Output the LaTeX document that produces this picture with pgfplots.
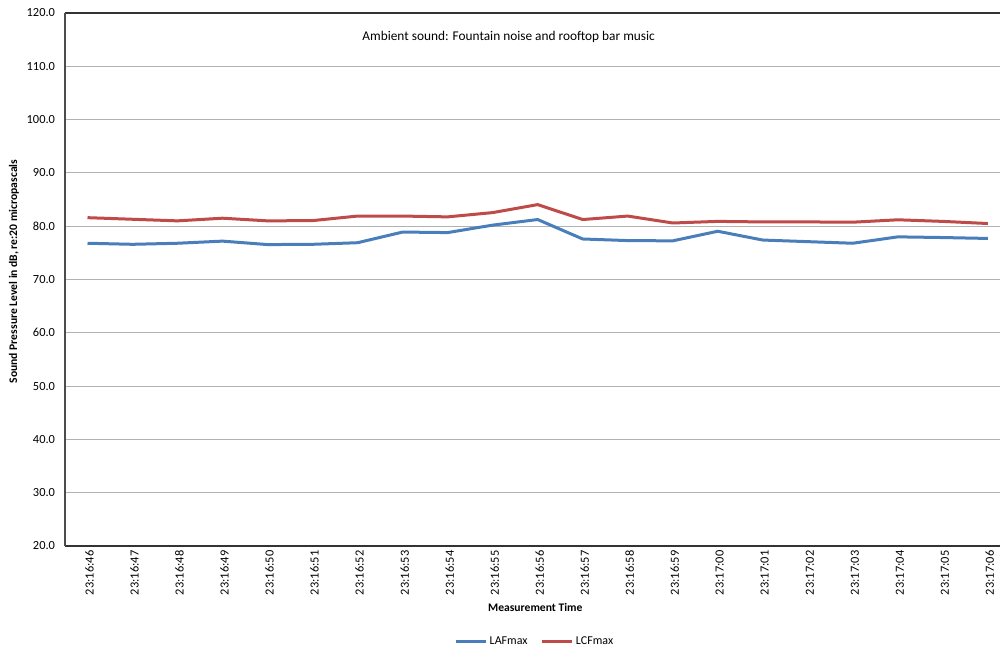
\documentclass[border=0pt]{standalone}
\usepackage{pgfplots}
\pgfplotsset{compat=1.18}
\usepackage{fontspec}
\setmainfont{Carlito}
\definecolor{lafblue}{HTML}{4A7EBB}
\definecolor{lcfred}{HTML}{BE4B48}
\pgfplotstableread{
i LAF LCF
0 76.8 81.6
1 76.6 81.3
2 76.8 81.0
3 77.2 81.5
4 76.55 81.0
5 76.6 81.05
6 76.9 81.9
7 78.9 81.9
8 78.8 81.75
9 80.2 82.55
10 81.25 84.05
11 77.6 81.25
12 77.3 81.9
13 77.25 80.6
14 79.05 80.9
15 77.4 80.8
16 77.1 80.8
17 76.8 80.75
18 78.0 81.2
19 77.87 80.9
20 77.7 80.5
}\data
\begin{document}
\begin{tikzpicture}
\begin{axis}[
  at={(0,0)}, anchor=south west,
  scale only axis,
  width=701.25pt, height=399.75pt,
  xmin=-0.5, xmax=20.27,
  ymin=20, ymax=120,
  ytick={20,30,...,120},
  yticklabel={\pgfmathprintnumber[fixed,fixed zerofill,precision=1]{\tick}},
  /pgf/number format/assume math mode=true,
  xtick={0,...,20},
  xticklabels={23:16:46,23:16:47,23:16:48,23:16:49,23:16:50,23:16:51,23:16:52,23:16:53,23:16:54,23:16:55,23:16:56,23:16:57,23:16:58,23:16:59,23:17:00,23:17:01,23:17:02,23:17:03,23:17:04,23:17:05,23:17:06},
  xticklabel style={rotate=90, anchor=east, font=\fontsize{9.3}{10}\selectfont, yshift=-1.5pt},
  yticklabel style={font=\fontsize{9.3}{10}\selectfont, xshift=-4pt},
  xtick style={draw=none},
  ytick style={draw=none},
  ymajorgrids,
  grid style={gray!60, line width=0.6pt},
  axis x line*=box,
  axis y line*=left,
  x axis line style={black!80, line width=1.2pt, -},
  y axis line style={black!70, line width=1.2pt, -},
  xlabel={\textbf{Measurement Time}},
  ylabel={\textbf{Sound Pressure Level in dB, re:20 micropascals}},
  xlabel style={font=\fontsize{8.7}{10}\selectfont, at={(axis description cs:0.503,-0.116)}, anchor=center},
  ylabel style={font=\fontsize{8.7}{10}\selectfont, at={(axis description cs:-0.0545,0.515)}, anchor=center, rotate=0},
  legend style={at={(axis description cs:0.503,-0.18)}, anchor=center, draw=none, legend columns=2, font=\fontsize{9}{10}\selectfont, /tikz/every even column/.append style={column sep=8pt}},
  legend image post style={line width=2.25pt},
  legend image code/.code={\draw[#1] (0pt,0pt) -- (22pt,0pt);},
  clip=false,
]
\addplot[lafblue, line width=2.25pt] table[x=i,y=LAF]{\data};
\addlegendentry{LAFmax}
\addplot[lcfred, line width=2.25pt] table[x=i,y=LCF]{\data};
\addlegendentry{LCFmax}
\node[font=\fontsize{10}{11}\selectfont] at (axis description cs:0.4745,0.955) {Ambient sound: Fountain noise and rooftop bar music};
\end{axis}
\pgfresetboundingbox
\path[use as bounding box] (-48.75pt,-79.5pt) rectangle (701.25pt,409.5pt);
\end{tikzpicture}
\end{document}
